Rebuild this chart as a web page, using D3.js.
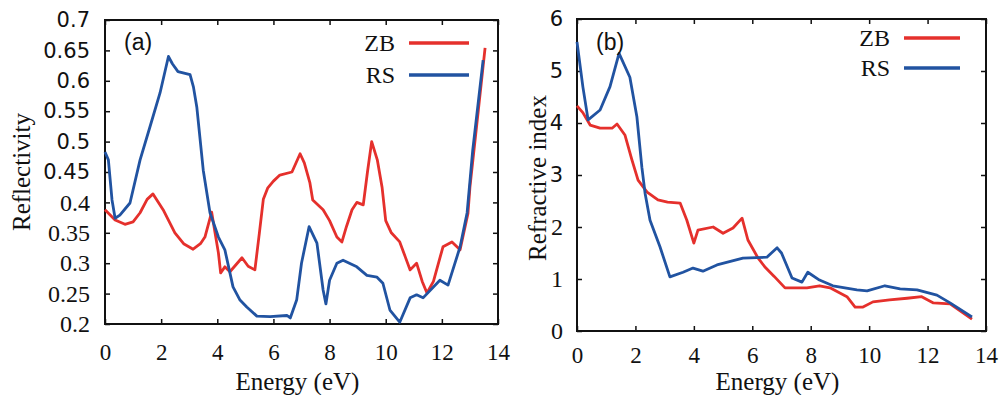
<!DOCTYPE html>
<html>
<head>
<meta charset="UTF-8">
<style>
body{ margin:0; background:#fff; }
svg{ display:block; }
.axis path{ display:none; }
.axis line{ stroke:#111; stroke-width:1.5; }
.axis text{ font-family:"Liberation Serif", serif; font-size:24px; fill:#111; }
.x.axis text{ font-size:23px; }
.axis text.sans{ font-family:"DejaVu Sans", sans-serif; font-size:21px; }
.frame{ fill:none; stroke:#111; stroke-width:2; }
.curve{ fill:none; stroke-width:2.8; stroke-linejoin:round; }
.label{ font-family:"Liberation Serif", serif; font-size:25px; fill:#111; }
.legend-text{ font-family:"Liberation Serif", serif; font-size:24px; fill:#111; }
.panel-tag{ font-family:"Liberation Sans", Arial, sans-serif; font-size:23px; fill:#111; }
</style>
<script src="https://cdn.jsdelivr.net/npm/d3@7"></script>
</head>
<body>
<script>
// energy ticks shared by both panels
var energyTicks = [0, 2, 4, 6, 8, 10, 12, 14];
var reflTicks = [0.2, 0.25, 0.3, 0.35, 0.4, 0.45, 0.5, 0.55, 0.6, 0.65, 0.7];
var indexTicks = [0, 1, 2, 3, 4, 5, 6];

// (a) reflectivity, [energy eV, R]
var reflZB = [[0,0.388],[0.36,0.371],[0.71,0.364],[1.0,0.368],[1.25,0.383],[1.5,0.405],[1.71,0.414],[2.07,0.388],[2.49,0.35],[2.8,0.332],[3.14,0.323],[3.4,0.332],[3.56,0.343],[3.8,0.384],[3.92,0.35],[4.04,0.317],[4.12,0.284],[4.27,0.294],[4.45,0.286],[4.88,0.309],[5.1,0.295],[5.34,0.289],[5.5,0.35],[5.64,0.405],[5.8,0.424],[6.0,0.435],[6.23,0.445],[6.66,0.45],[6.95,0.48],[7.1,0.465],[7.3,0.432],[7.4,0.404],[7.77,0.388],[8.0,0.37],[8.26,0.343],[8.44,0.335],[8.6,0.36],[8.8,0.388],[8.97,0.4],[9.2,0.396],[9.35,0.45],[9.5,0.5],[9.7,0.47],[9.87,0.425],[10.0,0.37],[10.2,0.35],[10.5,0.335],[10.7,0.31],[10.87,0.289],[11.1,0.3],[11.3,0.27],[11.47,0.251],[11.7,0.27],[12.04,0.327],[12.36,0.335],[12.65,0.322],[12.93,0.382],[13.0,0.425],[13.3,0.552],[13.54,0.654]];
var reflRS = [[0,0.483],[0.12,0.47],[0.25,0.404],[0.36,0.374],[0.53,0.379],[0.89,0.399],[1.25,0.47],[1.6,0.524],[1.96,0.58],[2.26,0.64],[2.4,0.628],[2.6,0.615],[3.03,0.61],[3.15,0.59],[3.27,0.557],[3.5,0.453],[3.74,0.383],[4.04,0.343],[4.27,0.322],[4.56,0.261],[4.8,0.24],[5.05,0.228],[5.41,0.213],[5.88,0.212],[6.48,0.214],[6.6,0.21],[6.83,0.24],[7.0,0.3],[7.27,0.36],[7.55,0.333],[7.77,0.256],[7.87,0.233],[8.0,0.272],[8.26,0.3],[8.48,0.305],[8.97,0.294],[9.33,0.28],[9.69,0.277],[9.9,0.267],[10.15,0.223],[10.5,0.203],[10.87,0.243],[11.1,0.248],[11.33,0.243],[11.93,0.272],[12.22,0.264],[12.65,0.327],[12.9,0.383],[13.1,0.486],[13.47,0.634]];

// (b) refractive index, [energy eV, n]
var indexZB = [[0,4.33],[0.2,4.2],[0.45,3.96],[0.79,3.9],[1.2,3.9],[1.37,3.98],[1.64,3.77],[1.88,3.29],[2.09,2.9],[2.4,2.67],[2.77,2.52],[3.1,2.48],[3.53,2.46],[3.76,2.13],[4.0,1.69],[4.14,1.94],[4.66,2.0],[5.0,1.88],[5.34,1.98],[5.65,2.17],[5.85,1.75],[6.2,1.4],[6.45,1.22],[6.75,1.05],[7.12,0.83],[7.87,0.83],[8.3,0.87],[8.66,0.83],[9.24,0.66],[9.52,0.46],[9.79,0.46],[10.13,0.56],[10.7,0.6],[11.3,0.63],[11.8,0.66],[12.2,0.54],[12.77,0.52],[13.52,0.23]];
var indexRS = [[0,5.56],[0.2,4.7],[0.38,4.06],[0.79,4.25],[1.13,4.7],[1.44,5.34],[1.81,4.88],[2.05,4.12],[2.22,3.15],[2.33,2.65],[2.5,2.13],[2.84,1.62],[3.18,1.04],[3.63,1.13],[3.97,1.21],[4.31,1.15],[4.79,1.27],[5.68,1.4],[6.5,1.42],[6.85,1.6],[7.0,1.5],[7.36,1.02],[7.7,0.94],[7.9,1.13],[8.3,0.98],[8.76,0.87],[9.58,0.79],[9.93,0.77],[10.54,0.87],[11.06,0.81],[11.64,0.79],[12.32,0.69],[12.77,0.54],[13.52,0.27]];

var red = "#e5302c", blue = "#2153a1";

var svg = d3.select("body").append("svg")
	.attr("width", 1000)
	.attr("height", 395);

function panel(opt){
	var x = d3.scaleLinear().domain([0, 14]).range([opt.left, opt.right]);
	var y = d3.scaleLinear().domain(opt.yDomain).range([opt.bottom, opt.top]);
	var g = svg.append("g");

	g.append("g").attr("class", "x axis")
		.attr("transform", "translate(0," + opt.bottom + ")")
		.call(d3.axisBottom(x).tickValues(energyTicks).tickSizeInner(-5).tickSizeOuter(0).tickPadding(opt.xPad));
	g.append("g").attr("class", "x axis")
		.attr("transform", "translate(0," + opt.top + ")")
		.call(d3.axisTop(x).tickValues(energyTicks).tickSizeInner(-5).tickSizeOuter(0).tickFormat(""));
	var yAxis = g.append("g").attr("class", "y axis")
		.attr("transform", "translate(" + opt.left + ",0)")
		.call(d3.axisLeft(y).tickValues(opt.yTicks).tickSizeInner(-5).tickSizeOuter(0).tickPadding(opt.yPad).tickFormat(opt.fmt));
	yAxis.selectAll("text").classed("sans", function(d){ return d >= opt.sansFrom; });
	g.append("g").attr("class", "y axis")
		.attr("transform", "translate(" + opt.right + ",0)")
		.call(d3.axisRight(y).tickValues(opt.yTicks).tickSizeInner(-5).tickSizeOuter(0).tickFormat(""));

	g.append("rect").attr("class", "frame")
		.attr("x", opt.left).attr("y", opt.top)
		.attr("width", opt.right - opt.left).attr("height", opt.bottom - opt.top);

	var line = d3.line().x(function(d){ return x(d[0]); }).y(function(d){ return y(d[1]); });
	g.append("path").attr("class", "curve").attr("stroke", red).attr("d", line(opt.zb));
	g.append("path").attr("class", "curve").attr("stroke", blue).attr("d", line(opt.rs));

	// legend
	var legend = [{name:"ZB", color:red}, {name:"RS", color:blue}];
	legend.forEach(function(s, i){
		var ly = opt.legY + i * opt.legGap;
		g.append("text").attr("class", "legend-text")
			.attr("x", opt.legX).attr("y", ly).attr("dy", "0.35em")
			.attr("text-anchor", "end").text(s.name);
		g.append("line")
			.attr("x1", opt.legX + 14).attr("x2", opt.legX + 14 + opt.legLen)
			.attr("y1", ly).attr("y2", ly)
			.attr("stroke", s.color).attr("stroke-width", 3.5);
	});

	g.append("text").attr("class", "panel-tag")
		.attr("x", opt.left + 19).attr("y", 42).attr("dy", "0.35em").text(opt.tag);

	g.append("text").attr("class", "label")
		.attr("x", (opt.left + opt.right) / 2 - 4).attr("y", 390)
		.attr("text-anchor", "middle").text("Energy (eV)");

	g.append("text").attr("class", "label")
		.attr("transform", "translate(" + opt.yLabelX + "," + opt.yLabelY + ") rotate(-90)")
		.attr("text-anchor", "middle").text(opt.yLabel);
}

panel({left:105, right:498, top:20, bottom:324, yDomain:[0.2, 0.7], yTicks:reflTicks,
	fmt:function(d){ return String(+d.toFixed(2)); }, sansFrom:0.45, xPad:20, yPad:15,
	zb:reflZB, rs:reflRS, legX:395, legY:43, legGap:32, legLen:60, tag:"(a)",
	yLabel:"Reflectivity", yLabelX:30, yLabelY:172});

panel({left:577, right:986, top:19, bottom:331, yDomain:[0, 6], yTicks:indexTicks,
	fmt:d3.format("d"), sansFrom:3, xPad:16, yPad:14,
	zb:indexZB, rs:indexRS, legX:890, legY:38, legGap:30, legLen:56, tag:"(b)",
	yLabel:"Refractive index", yLabelX:546, yLabelY:178});
</script>
</body>
</html>
